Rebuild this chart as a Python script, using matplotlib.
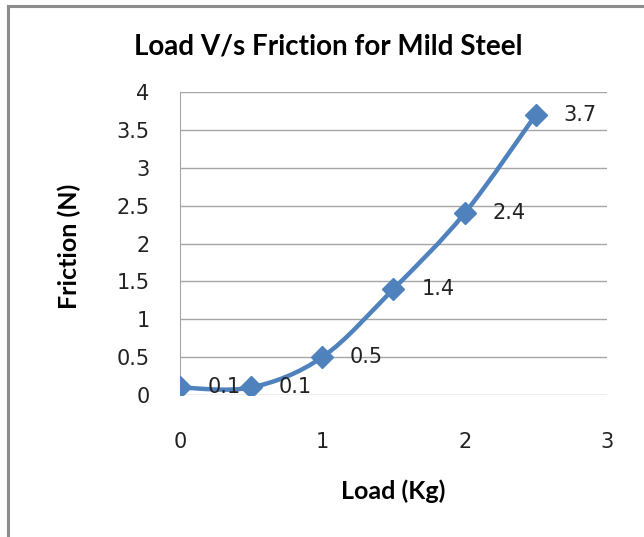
import numpy as np
import matplotlib
matplotlib.use('Agg')
from matplotlib import pyplot as plt
from matplotlib.path import Path
from matplotlib.patches import PathPatch

# data
load_kg = [0, 0.5, 1, 1.5, 2, 2.5]
friction_n = [0.1, 0.1, 0.5, 1.4, 2.4, 3.7]
x_ticks = [0, 1, 2, 3]
y_ticks = [0, 0.5, 1, 1.5, 2, 2.5, 3, 3.5, 4]

blue = '#4F81BD'
grid_col = '#A6A6A6'
text_col = '#222222'


def smooth_path(xs, ys):
    # excel style smoothed line: bezier segments through the points
    pts = np.column_stack([xs, ys]).astype(float)
    n = len(pts)
    verts = [pts[0]]
    codes = [Path.MOVETO]
    for i in range(n - 1):
        p0 = pts[i - 1] if i > 0 else pts[i]
        p1 = pts[i]
        p2 = pts[i + 1]
        p3 = pts[i + 2] if i + 2 < n else pts[i + 1]
        c1 = p1 + (p2 - p0) / 6.0
        c2 = p2 - (p3 - p1) / 6.0
        verts += [c1, c2, p2]
        codes += [Path.CURVE4] * 3
    return Path(verts, codes)


fig = plt.figure(figsize=(6.44, 5.37), dpi=100)
ax = fig.add_axes([180 / 644, 1 - 395 / 537, (607 - 180) / 644, (395 - 92) / 537])

ax.add_patch(PathPatch(smooth_path(load_kg, friction_n), fill=False,
                       edgecolor=blue, lw=3.2, zorder=3))
ax.plot(load_kg, friction_n, linestyle='none', marker='D', markersize=11,
        color=blue, zorder=4)
for x, y in zip(load_kg, friction_n):
    ax.annotate(str(y), (x, y), xytext=(20, 0), textcoords='offset points',
                va='center', ha='left', fontsize=15, color=text_col, zorder=5)

ax.set_xlim(0, 3)
ax.set_ylim(0, 4)
ax.set_xticks(x_ticks)
ax.set_yticks(y_ticks)
ax.set_xticklabels([str(t) for t in x_ticks])
ax.set_yticklabels(['%g' % t for t in y_ticks])
ax.tick_params(axis='x', length=0, pad=27, labelsize=15, colors=text_col)
ax.tick_params(axis='y', length=0, pad=22, labelsize=15, colors=text_col)
ax.yaxis.grid(True, color=grid_col, lw=1.0)
ax.set_axisbelow(True)
for s in ['top', 'right', 'bottom']:
    ax.spines[s].set_visible(False)
ax.spines['left'].set_color(grid_col)

ax.set_xlabel('Load (Kg)', fontsize=18, fontweight='bold', family='Lato', va='center')
ax.xaxis.set_label_coords(0.5, (395 - 491) / 303)
ax.set_ylabel('Friction (N)', fontsize=18, fontweight='bold', family='Lato', va='center')
ax.yaxis.set_label_coords((69 - 180) / 427, 0.5 + (395 - 246) / 303 - 0.5)
fig.text(328 / 644, 1 - 47 / 537, 'Load V/s Friction for Mild Steel', ha='center',
         va='center', fontsize=20, fontweight='bold', family='Lato')

# chart border (only top and left edges show in the crop)
fig.add_artist(plt.Line2D([8 / 644, 8 / 644], [0, 1 - 6 / 537], color='#8C8C8C', lw=2.2))
fig.add_artist(plt.Line2D([8 / 644, 1], [1 - 6 / 537, 1 - 6 / 537], color='#8C8C8C', lw=2.2))

fig.savefig('out.png', dpi=100)
